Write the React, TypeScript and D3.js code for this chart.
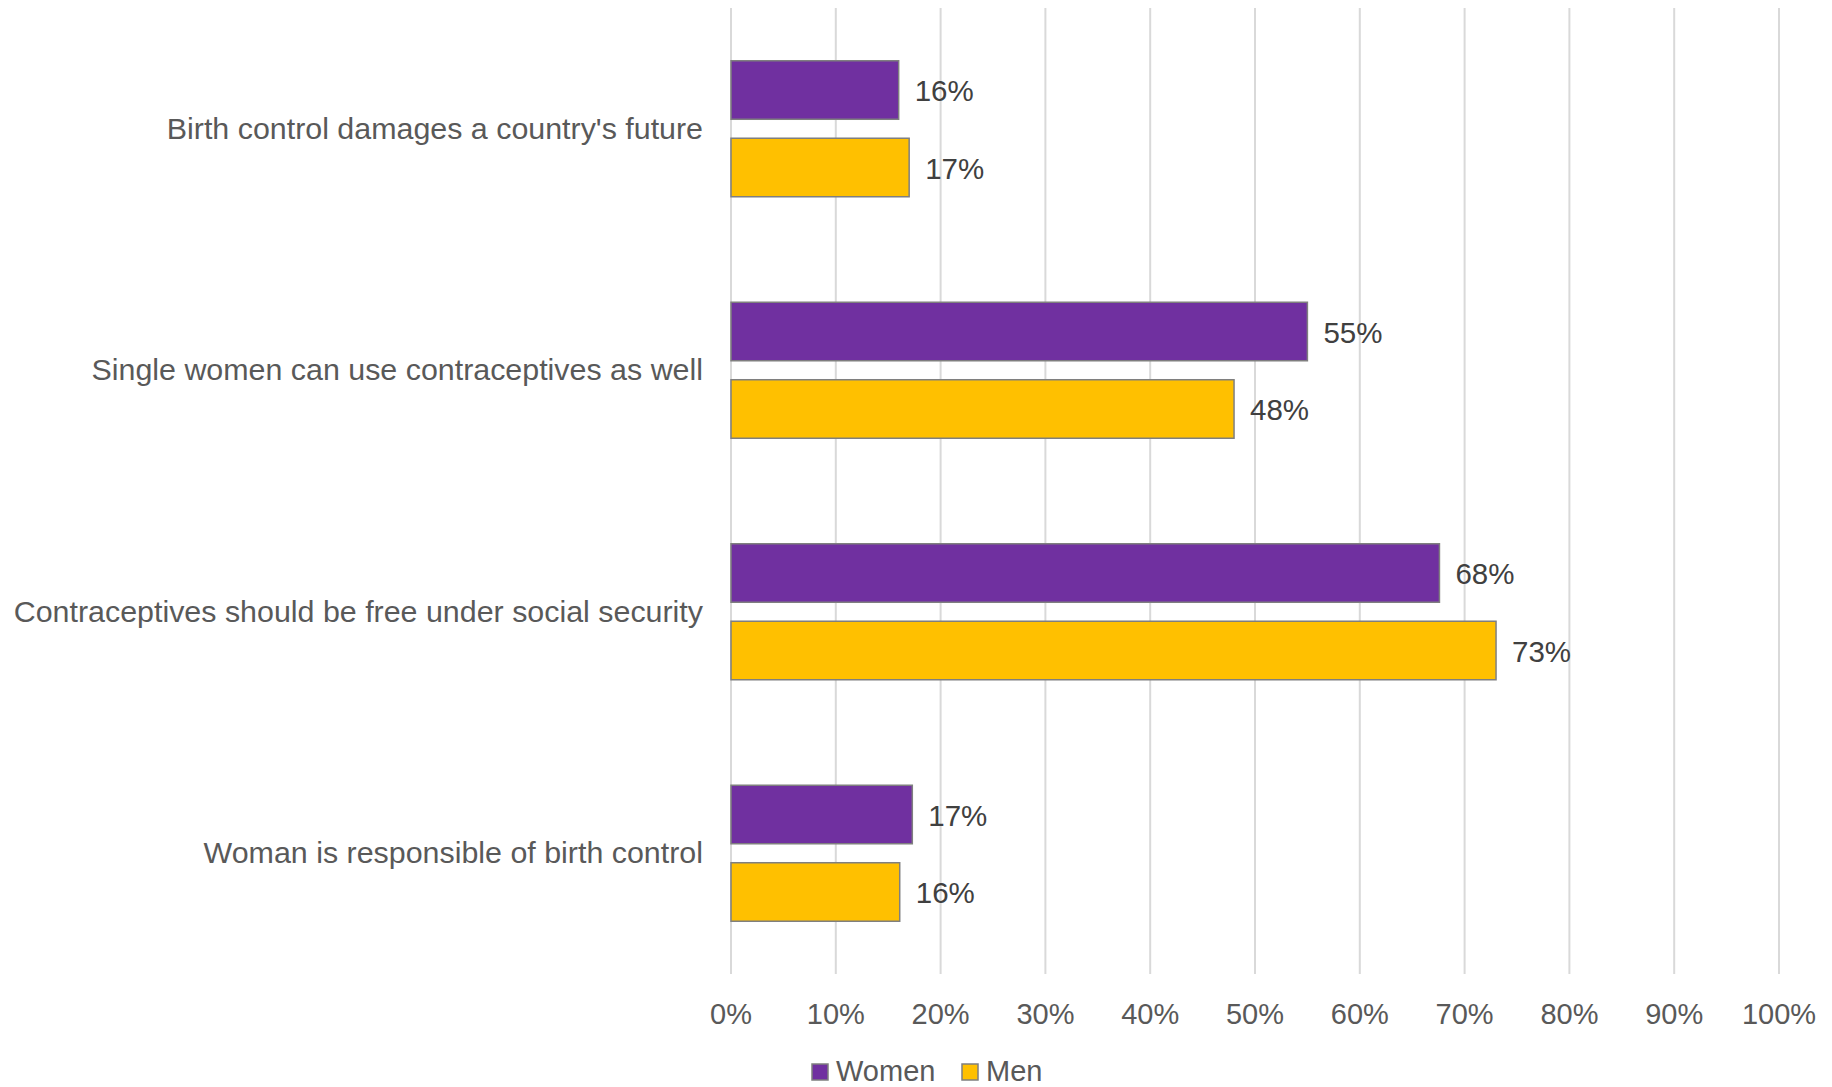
import React from "react";
import * as d3 from "d3";

const categories = [
  "Birth control damages a country's future",
  "Single women can use contraceptives as well",
  "Contraceptives should be free under social security",
  "Woman is responsible of birth control",
];
const seriesNames = ["Women", "Men"];
const women = [16, 55, 67.6, 17.3];
const men = [17, 48, 73, 16.1];
const womenLabels = ["16%", "55%", "68%", "17%"];
const menLabels = ["17%", "48%", "73%", "16%"];
const ticks = [0, 10, 20, 30, 40, 50, 60, 70, 80, 90, 100];
const colors = ["#7030A0", "#FFC000"];

const W = 1832;
const H = 1087;
const FONT = "'Liberation Sans', Arial, sans-serif";

export default function App() {
  const x = d3.scaleLinear().domain([0, 100]).range([731, 1779]);
  const y = d3.scaleBand<string>().domain(categories).range([8, 974]).padding(0);
  const bandPad = 52.75;
  const inner = d3
    .scaleBand<string>()
    .domain(seriesNames)
    .range([bandPad, y.bandwidth() - bandPad])
    .paddingInner(0.245)
    .paddingOuter(0);
  const series = [
    { name: "Women", values: women, labels: womenLabels },
    { name: "Men", values: men, labels: menLabels },
  ];

  return (
    <div style={{ position: "absolute", left: 0, top: 0 }}>
      <svg width={W} height={H} style={{ display: "block", background: "#fff" }}>
        {ticks.map((t) => (
          <line key={t} x1={x(t)} x2={x(t)} y1={8} y2={974} stroke="#d9d9d9" strokeWidth={2} />
        ))}
        {categories.map((c) => (
          <text
            key={c}
            x={703}
            y={(y(c) as number) + y.bandwidth() / 2 - 1}
            dy="0.36em"
            textAnchor="end"
            fontFamily={FONT}
            fontSize={30.4}
            fill="#595959"
          >
            {c}
          </text>
        ))}
        {series.map((s, si) =>
          categories.map((c, i) => {
            const by = (y(c) as number) + (inner(s.name) as number);
            const bh = inner.bandwidth();
            return (
              <g key={s.name + c}>
                <rect
                  x={x(0)}
                  y={by}
                  width={x(s.values[i]) - x(0)}
                  height={bh}
                  fill={colors[si]}
                  stroke="#7f7f7f"
                  strokeWidth={1.5}
                />
                <text
                  x={x(s.values[i]) + 16}
                  y={by + bh / 2}
                  dy="0.38em"
                  fontFamily={FONT}
                  fontSize={29.5}
                  fill="#404040"
                >
                  {s.labels[i]}
                </text>
              </g>
            );
          })
        )}
        {ticks.map((t) => (
          <text
            key={"t" + t}
            x={x(t)}
            y={1024}
            textAnchor="middle"
            fontFamily={FONT}
            fontSize={29}
            fill="#595959"
          >
            {t + "%"}
          </text>
        ))}
        <g>
          <rect x={812} y={1064} width={16} height={16} fill={colors[0]} stroke="#7f7f7f" strokeWidth={1.5} />
          <text x={836} y={1071} dy="0.36em" fontFamily={FONT} fontSize={29} fill="#595959">
            {seriesNames[0]}
          </text>
          <rect x={962} y={1064} width={16} height={16} fill={colors[1]} stroke="#7f7f7f" strokeWidth={1.5} />
          <text x={986} y={1071} dy="0.36em" fontFamily={FONT} fontSize={29} fill="#595959">
            {seriesNames[1]}
          </text>
        </g>
      </svg>
    </div>
  );
}
